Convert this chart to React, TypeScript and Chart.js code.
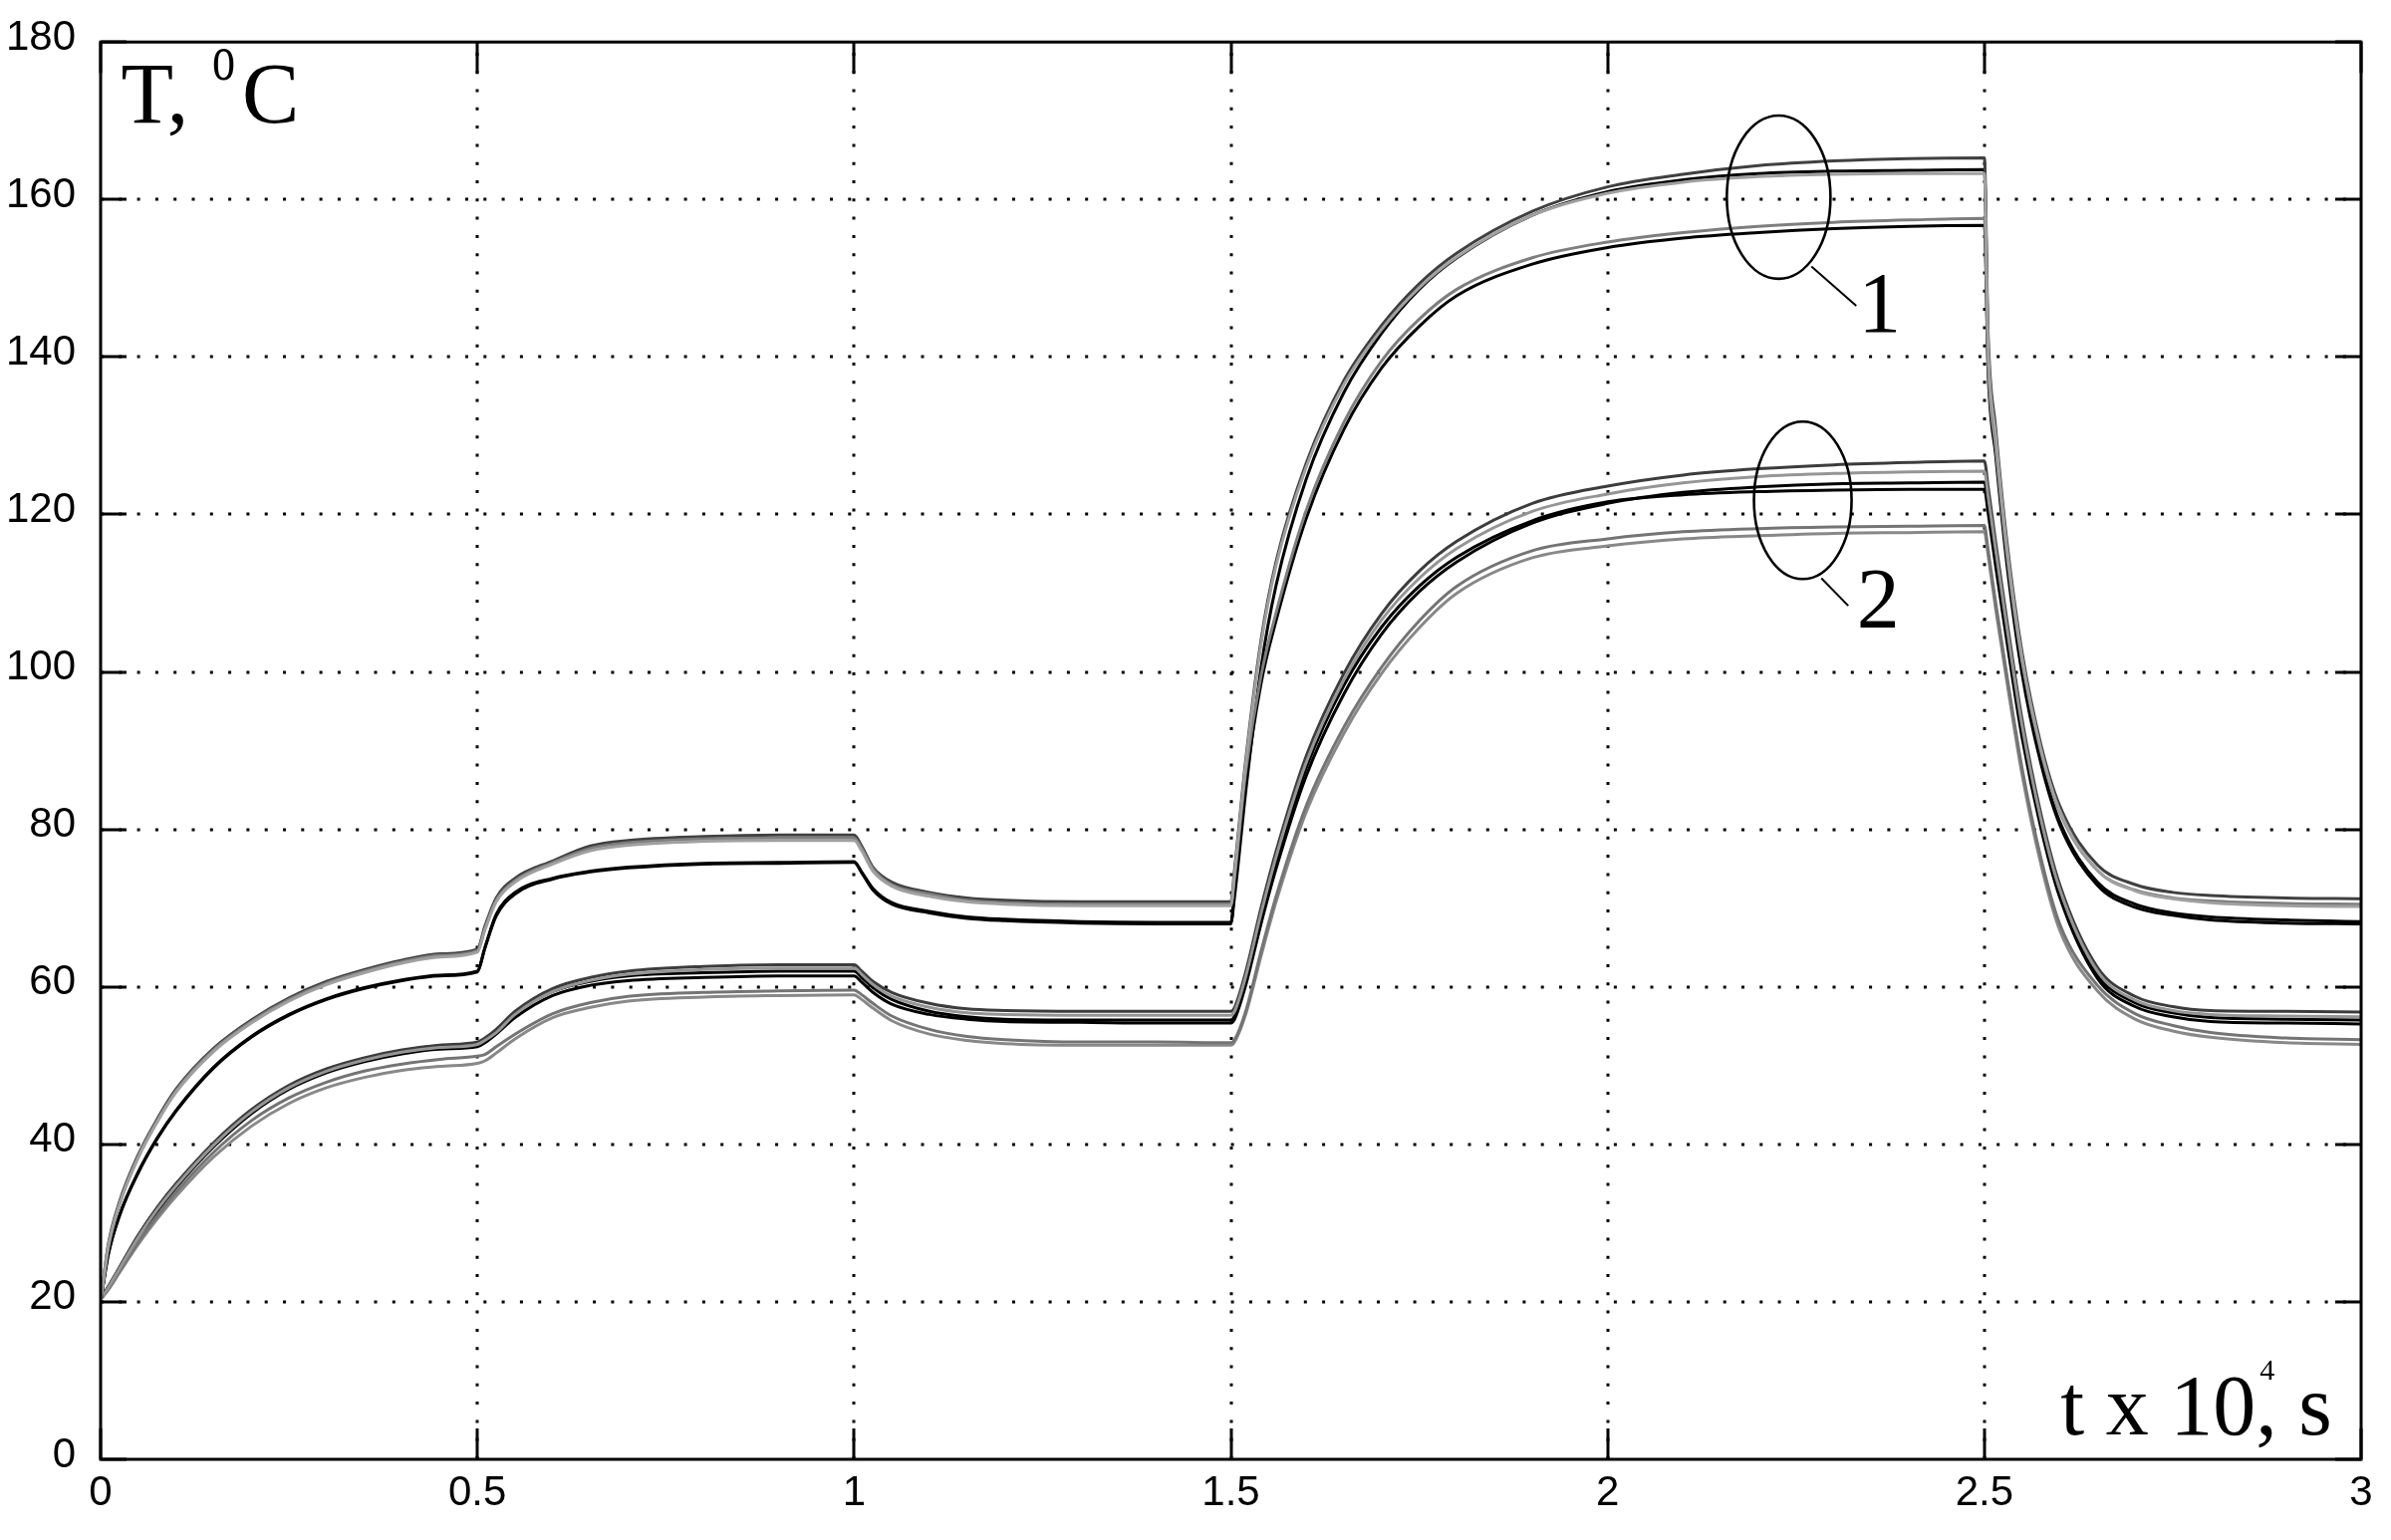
import React, { useEffect, useRef } from 'react';
import { Chart, registerables } from 'chart.js';

Chart.register(...registerables);

// time, x 10^4 s
const TIME = [
  0, 0.01, 0.025, 0.05, 0.075, 0.1, 0.15, 0.2, 0.25, 0.3, 0.35, 0.4, 0.45, 0.5,
  0.51, 0.525, 0.55, 0.6, 0.65, 0.7, 0.8, 0.9, 1.0,
  1.01, 1.025, 1.05, 1.1, 1.15, 1.2, 1.3, 1.4, 1.5,
  1.505, 1.52, 1.54, 1.56, 1.6, 1.65, 1.7, 1.75, 1.8, 1.9, 2.0, 2.1, 2.2, 2.3, 2.4, 2.5,
  2.505, 2.515, 2.53, 2.55, 2.575, 2.6, 2.65, 2.7, 2.75, 2.8, 2.9, 3.0,
];

const X_TICKS = [0, 0.5, 1, 1.5, 2, 2.5, 3];
const Y_TICKS = [0, 20, 40, 60, 80, 100, 120, 140, 160, 180];

// group 1 (upper curves), T in degC
const U1 = [
  20, 27.2, 32.7, 38.7, 43.2, 47.0, 52.2, 55.8, 58.6, 60.7, 62.2, 63.4, 64.2, 64.8,
  67.7, 71.3, 73.8, 76.0, 77.9, 78.6, 79.1, 79.3, 79.3,
  77.9, 75.2, 73.3, 72.0, 71.3, 71.0, 70.8, 70.8, 70.8,
  75.0, 89.0, 104.0, 114.0, 126.5, 137.0, 144.0, 149.3, 153.2, 158.5, 161.6, 163.2, 164.3, 164.9, 165.2, 165.3,
  143.0, 131.0, 116.5, 102.5, 90.8, 83.0, 75.5, 73.0, 72.0, 71.6, 71.3, 71.2,
];
const U2 = [
  20, 26.8, 32.3, 38.3, 42.8, 46.6, 51.8, 55.4, 58.2, 60.3, 61.8, 63.0, 63.8, 64.4,
  67.2, 70.8, 73.3, 75.6, 77.3, 78.0, 78.5, 78.6, 78.6,
  77.3, 74.7, 72.8, 71.5, 70.8, 70.5, 70.3, 70.3, 70.3,
  74.5, 88.5, 103.5, 113.5, 126.0, 136.5, 143.5, 148.8, 152.7, 158.0, 160.8, 162.2, 162.9, 163.2, 163.3, 163.3,
  141.5, 130.0, 115.7, 101.8, 90.2, 82.4, 74.8, 72.2, 71.2, 70.7, 70.3, 70.2,
];
const U3 = [
  20, 26.0, 31.0, 36.5, 40.8, 44.3, 49.8, 53.7, 56.5, 58.5, 59.9, 60.9, 61.5, 62.0,
  65.0, 69.2, 72.0, 73.8, 74.7, 75.2, 75.7, 75.8, 75.9,
  74.6, 72.5, 70.7, 69.6, 68.9, 68.6, 68.3, 68.2, 68.2,
  71.5, 85.0, 100.5, 111.0, 124.5, 135.5, 143.0, 148.6, 152.6, 158.0, 161.0, 162.5, 163.3, 163.6, 163.7, 163.8,
  140.5, 129.0, 114.5, 100.5, 88.8, 81.0, 73.3, 70.5, 69.4, 68.9, 68.5, 68.3,
];
const U4 = [
  20, 27.0, 32.5, 38.5, 43.0, 46.8, 52.0, 55.6, 58.4, 60.5, 62.0, 63.2, 64.0, 64.6,
  67.4, 71.0, 73.5, 75.8, 77.6, 78.3, 78.8, 78.9, 78.9,
  77.6, 75.0, 73.0, 71.8, 71.0, 70.7, 70.5, 70.5, 70.5,
  74.0, 87.5, 99.5, 107.5, 120.5, 131.7, 139.5, 144.8, 148.6, 152.6, 154.6, 155.8, 156.6, 157.1, 157.4, 157.6,
  139.0, 128.5, 114.8, 101.3, 89.9, 82.2, 74.8, 72.3, 71.3, 70.9, 70.6, 70.5,
];
const U5 = [
  20, 25.9, 30.9, 36.4, 40.7, 44.2, 49.7, 53.6, 56.4, 58.4, 59.8, 60.8, 61.4, 61.9,
  64.9, 69.0, 71.8, 73.7, 74.6, 75.1, 75.6, 75.7, 75.8,
  74.5, 72.3, 70.5, 69.4, 68.7, 68.4, 68.1, 68.0, 68.0,
  72.5, 86.0, 98.5, 106.5, 119.5, 130.8, 138.6, 143.9, 147.8, 151.8, 153.9, 155.1, 155.8, 156.3, 156.6, 156.7,
  138.0, 127.5, 113.6, 99.8, 88.4, 80.6, 72.9, 70.1, 69.1, 68.5, 68.1, 68.0,
];

// group 2 (lower curves)
const L1 = [
  20.3, 21.9, 24.4, 28.5, 32.0, 35.0, 40.2, 44.4, 47.5, 49.6, 51.0, 52.0, 52.6, 53.0,
  53.5, 54.6, 56.9, 59.8, 61.2, 62.0, 62.6, 62.8, 62.8,
  62.0, 60.7, 59.3, 57.9, 57.2, 57.0, 56.9, 56.9, 56.9,
  57.4, 62.0, 70.0, 77.2, 89.3, 99.8, 107.4, 112.8, 116.6, 121.4, 123.6, 125.0, 125.8, 126.3, 126.6, 126.8,
  123.5, 116.5, 106.5, 94.0, 82.0, 73.0, 62.5, 58.8, 57.5, 57.0, 56.9, 56.8,
];
const L2 = [
  20.3, 21.8, 24.2, 28.2, 31.7, 34.7, 39.9, 44.1, 47.2, 49.3, 50.7, 51.7, 52.3, 52.7,
  53.2, 54.2, 56.5, 59.4, 60.8, 61.6, 62.2, 62.4, 62.4,
  61.6, 60.3, 58.8, 57.4, 56.7, 56.5, 56.4, 56.4, 56.4,
  56.9, 61.4, 69.3, 76.5, 88.5, 99.0, 106.6, 111.9, 115.7, 120.4, 122.6, 124.0, 124.8, 125.2, 125.4, 125.5,
  122.3, 115.5, 105.6, 93.2, 81.3, 72.4, 62.0, 58.3, 57.0, 56.5, 56.3, 56.2,
];
const L3 = [
  20.3, 21.7, 24.1, 28.0, 31.5, 34.5, 39.7, 43.9, 47.0, 49.1, 50.5, 51.5, 52.1, 52.4,
  52.9, 54.0, 56.1, 58.9, 60.2, 60.8, 61.2, 61.4, 61.4,
  60.6, 59.3, 57.8, 56.5, 55.9, 55.6, 55.5, 55.4, 55.4,
  55.9, 60.3, 68.0, 75.0, 86.8, 97.2, 104.8, 110.2, 114.0, 118.9, 121.4, 122.8, 123.5, 123.9, 124.0, 124.1,
  121.0, 114.2, 104.5, 92.3, 80.7, 71.9, 61.6, 58.0, 56.7, 56.1, 55.9, 55.8,
];
const L4 = [
  20.3, 21.9, 24.3, 28.4, 31.9, 34.9, 40.1, 44.3, 47.4, 49.5, 50.9, 51.9, 52.5, 52.8,
  53.3, 54.4, 56.6, 59.4, 60.7, 61.4, 61.8, 62.0, 62.0,
  61.2, 59.9, 58.4, 56.9, 56.2, 55.9, 55.8, 55.8, 55.8,
  56.3, 60.8, 68.7, 75.8, 87.8, 98.3, 105.7, 110.9, 114.6, 119.2, 121.6, 122.5, 122.9, 123.1, 123.2, 123.2,
  120.2, 113.4, 103.8, 91.7, 80.2, 71.4, 61.1, 57.5, 56.2, 55.6, 55.4, 55.3,
];
const L5 = [
  20.3, 21.6, 23.9, 27.6, 30.9, 33.9, 39.0, 43.0, 45.9, 47.9, 49.3, 50.2, 50.8, 51.2,
  51.4, 52.4, 54.0, 56.6, 58.0, 58.8, 59.3, 59.5, 59.6,
  59.0, 57.9, 56.3, 54.6, 53.7, 53.3, 53.0, 53.0, 52.9,
  53.3, 57.0, 64.5, 71.5, 83.0, 93.0, 100.6, 106.5, 110.9, 115.4, 116.9, 117.8, 118.2, 118.4, 118.5, 118.6,
  115.5, 108.8, 99.5, 87.8, 76.4, 68.0, 60.2, 56.6, 55.1, 54.2, 53.5, 53.3,
];
const L6 = [
  20.3, 21.5, 23.7, 27.3, 30.5, 33.4, 38.4, 42.3, 45.2, 47.2, 48.5, 49.4, 49.9, 50.3,
  50.6, 51.6, 53.4, 56.1, 57.4, 58.2, 58.7, 58.9, 59.0,
  58.4, 57.3, 55.7, 54.0, 53.2, 52.8, 52.6, 52.6, 52.6,
  53.0, 56.6, 63.9, 70.8, 82.2, 92.2, 99.8, 105.6, 110.0, 114.5, 116.0, 116.9, 117.3, 117.6, 117.7, 117.8,
  114.8, 108.0, 98.7, 87.0, 75.6, 67.2, 59.5, 55.9, 54.4, 53.6, 52.9, 52.7,
];

const SERIES = [
  { label: '1-a', values: U2, color: '#a0a0a0' },
  { label: '1-b', values: U4, color: '#7e7e7e' },
  { label: '1-c', values: U1, color: '#404040' },
  { label: '1-d', values: U3, color: '#000000' },
  { label: '1-e', values: U5, color: '#000000' },
  { label: '2-a', values: L2, color: '#959595' },
  { label: '2-b', values: L5, color: '#747474' },
  { label: '2-c', values: L6, color: '#888888' },
  { label: '2-d', values: L1, color: '#3c3c3c' },
  { label: '2-e', values: L3, color: '#000000' },
  { label: '2-f', values: L4, color: '#000000' },
];

// annotation anchors in data units [t, T]
const ELLIPSE_1 = { t: 2.227, v: 160.3, rt: 0.0688, rv: 10.37 };
const ELLIPSE_2 = { t: 2.259, v: 121.8, rt: 0.0648, rv: 10.0 };
const LEADER_1 = [2.2705, 151.5, 2.33, 146.5];
const LEADER_2 = [2.2837, 111.9, 2.3194, 108.4];
const LABEL_1 = { text: '1', t: 2.3325, v: 143.2 };
const LABEL_2 = { text: '2', t: 2.3305, v: 105.6 };

const SERIF = "'Liberation Serif', 'Times New Roman', serif";
const TICK_FONT = "'Liberation Sans', Arial, sans-serif";

const matlabPlugin = {
  id: 'matlabFrame',
  beforeDraw(chart: any) {
    const { ctx, width, height } = chart;
    ctx.save();
    ctx.fillStyle = '#ffffff';
    ctx.fillRect(0, 0, width, height);
    ctx.restore();
  },
  beforeDatasetsDraw(chart: any) {
    const { ctx, chartArea: a, scales } = chart;
    const xs = scales.x;
    const ys = scales.y;
    ctx.save();
    ctx.strokeStyle = '#000';
    ctx.lineWidth = 3;
    ctx.setLineDash([3, 15.3]);
    X_TICKS.forEach((v) => {
      if (v <= 0 || v >= 3) return;
      const px = Math.round(xs.getPixelForValue(v));
      ctx.beginPath();
      ctx.moveTo(px, a.bottom);
      ctx.lineTo(px, a.top);
      ctx.stroke();
    });
    Y_TICKS.forEach((v) => {
      if (v <= 0 || v >= 180) return;
      const py = Math.round(ys.getPixelForValue(v));
      ctx.beginPath();
      ctx.moveTo(a.left, py);
      ctx.lineTo(a.right, py);
      ctx.stroke();
    });
    ctx.restore();
  },
  afterDatasetsDraw(chart: any) {
    const { ctx, chartArea: a, scales } = chart;
    const xs = scales.x;
    const ys = scales.y;
    ctx.save();
    ctx.setLineDash([]);
    ctx.strokeStyle = '#000';
    ctx.lineWidth = 3;
    // ticks pointing inward
    X_TICKS.forEach((v) => {
      const px = Math.round(xs.getPixelForValue(v));
      ctx.beginPath();
      ctx.moveTo(px, a.bottom);
      ctx.lineTo(px, a.bottom - 31);
      ctx.moveTo(px, a.top);
      ctx.lineTo(px, a.top + 31);
      ctx.stroke();
    });
    Y_TICKS.forEach((v) => {
      const py = Math.round(ys.getPixelForValue(v));
      ctx.beginPath();
      ctx.moveTo(a.left, py);
      ctx.lineTo(a.left + 26, py);
      ctx.moveTo(a.right, py);
      ctx.lineTo(a.right - 26, py);
      ctx.stroke();
    });
    ctx.strokeRect(a.left, a.top, a.right - a.left, a.bottom - a.top);

    // ellipses and leaders
    const drawEllipse = (e: any) => {
      const cx = xs.getPixelForValue(e.t);
      const cy = ys.getPixelForValue(e.v);
      const rx = Math.abs(xs.getPixelForValue(e.t + e.rt) - cx);
      const ry = Math.abs(ys.getPixelForValue(e.v + e.rv) - cy);
      ctx.lineWidth = 2.6;
      ctx.beginPath();
      ctx.ellipse(cx, cy, rx, ry, 0, 0, Math.PI * 2);
      ctx.stroke();
    };
    drawEllipse(ELLIPSE_1);
    drawEllipse(ELLIPSE_2);
    const drawLeader = (l: number[]) => {
      ctx.lineWidth = 2;
      ctx.beginPath();
      ctx.moveTo(xs.getPixelForValue(l[0]), ys.getPixelForValue(l[1]));
      ctx.lineTo(xs.getPixelForValue(l[2]), ys.getPixelForValue(l[3]));
      ctx.stroke();
    };
    drawLeader(LEADER_1);
    drawLeader(LEADER_2);

    ctx.fillStyle = '#000';
    ctx.textAlign = 'left';
    ctx.textBaseline = 'alphabetic';
    ctx.font = `86px ${SERIF}`;
    [LABEL_1, LABEL_2].forEach((l) => {
      ctx.fillText(l.text, xs.getPixelForValue(l.t), ys.getPixelForValue(l.v));
    });

    // axis captions inside the frame
    ctx.font = `86px ${SERIF}`;
    ctx.fillText('T,', a.left + 20.5, a.top + 81);
    ctx.fillText('C', a.left + 142, a.top + 81);
    // raised degree mark (tall oval)
    ctx.save();
    ctx.font = `44px ${SERIF}`;
    ctx.translate(a.left + 112, a.top + 38);
    ctx.scale(1.05, 1.5);
    ctx.fillText('o', 0, 0);
    ctx.restore();

    ctx.font = `86px ${SERIF}`;
    const base = 't x 10';
    const x0 = a.right - 301.7;
    const yb = a.bottom - 25;
    ctx.fillText(base + ', s', x0, yb);
    const w = ctx.measureText(base).width;
    ctx.font = `30px ${SERIF}`;
    ctx.fillText('4', x0 + w + 4, a.bottom - 80);
    ctx.restore();
  },
};

export default function App() {
  const ref = useRef<HTMLCanvasElement>(null);
  useEffect(() => {
    const canvas = ref.current;
    if (!canvas) return;
    const datasets = SERIES.map((s) => ({
      label: s.label,
      data: TIME.map((t, i) => ({ x: t, y: s.values[i] })),
      borderColor: s.color,
      backgroundColor: s.color,
      borderWidth: 3,
      pointRadius: 0,
      pointHoverRadius: 0,
      fill: false,
      cubicInterpolationMode: 'monotone' as const,
    }));
    const chart = new Chart(canvas, {
      type: 'line',
      data: { datasets },
      plugins: [matlabPlugin],
      options: {
        animation: false,
        responsive: false,
        maintainAspectRatio: false,
        devicePixelRatio: 1,
        events: [],
        layout: { padding: { top: 42, right: 30, left: 0, bottom: 0 } },
        plugins: { legend: { display: false }, tooltip: { enabled: false }, title: { display: false } },
        scales: {
          x: {
            type: 'linear',
            min: 0,
            max: 3,
            afterBuildTicks: (s: any) => {
              s.ticks = X_TICKS.map((v) => ({ value: v }));
            },
            afterFit: (s: any) => {
              s.height = 81;
            },
            grid: { display: false },
            border: { display: false },
            ticks: {
              autoSkip: false,
              maxRotation: 0,
              color: '#000',
              padding: 1,
              font: { family: TICK_FONT, size: 42 },
              callback: (v: any) => String(v),
            },
          },
          y: {
            type: 'linear',
            min: 0,
            max: 180,
            afterBuildTicks: (s: any) => {
              s.ticks = Y_TICKS.map((v) => ({ value: v }));
            },
            afterFit: (s: any) => {
              s.width = 101;
            },
            grid: { display: false },
            border: { display: false },
            ticks: {
              autoSkip: false,
              color: '#000',
              padding: 17,
              labelOffset: -4,
              font: { family: TICK_FONT, size: 42 },
              callback: (v: any) => String(v),
            },
          },
        },
      },
    });
    return () => chart.destroy();
  }, []);
  return (
    <div style={{ position: 'absolute', left: 0, top: 0, width: 2400, height: 1546, background: '#fff' }}>
      <canvas ref={ref} width={2400} height={1546} style={{ display: 'block', width: '2400px', height: '1546px' }} />
    </div>
  );
}
